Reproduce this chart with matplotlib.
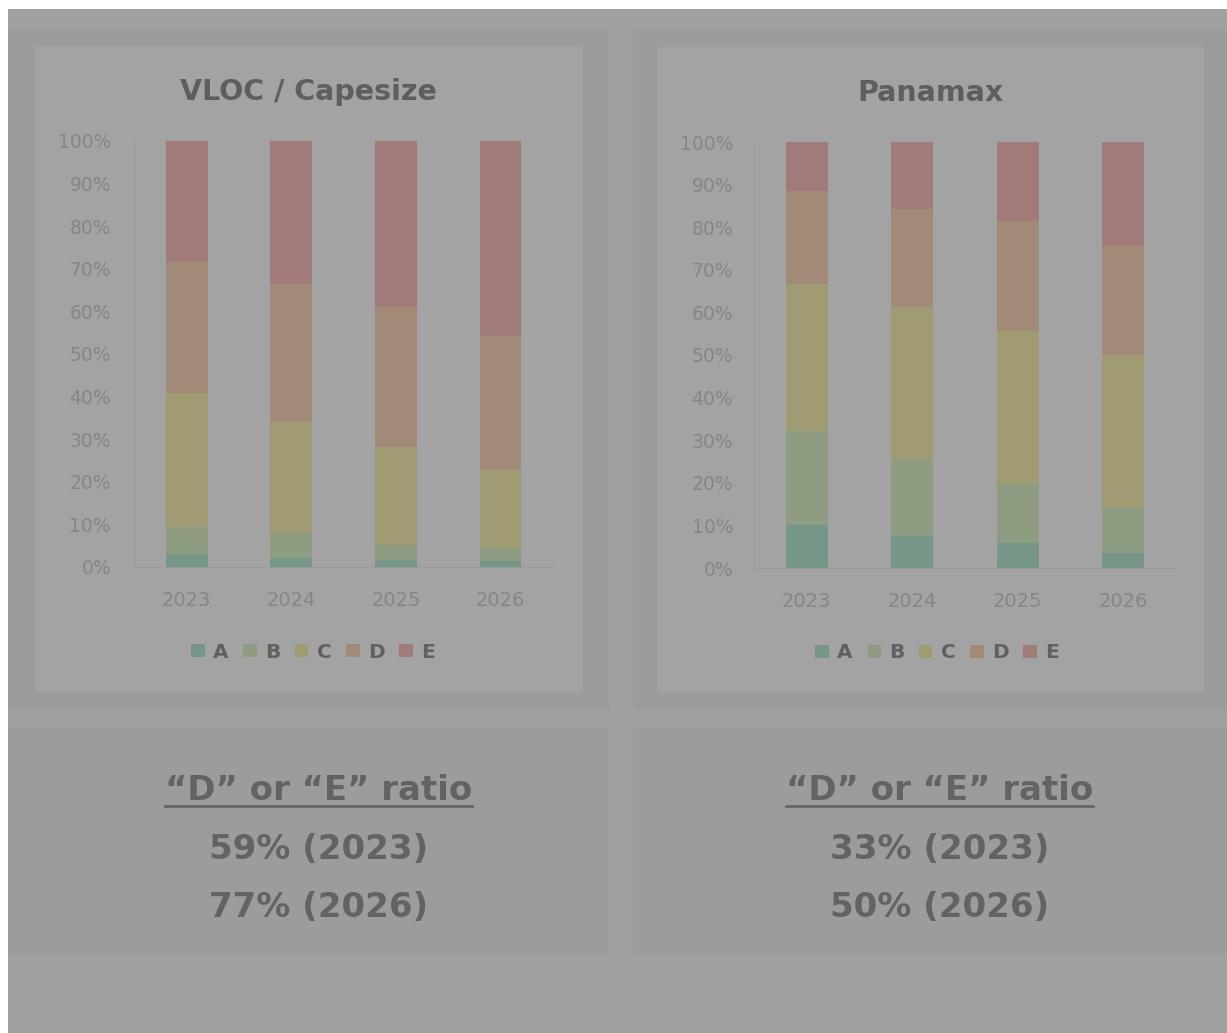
import numpy as np
import matplotlib
matplotlib.use('Agg')
from matplotlib import pyplot as plt
from matplotlib.patches import Rectangle
from matplotlib.lines import Line2D

W, H = 1227, 1033

years = ['2023', '2024', '2025', '2026']
grades = ['A', 'B', 'C', 'D', 'E']

# share of fleet by grade, percent
cape_A = [3.0, 2.2, 1.6, 1.4]
cape_B = [6.5, 5.8, 3.6, 3.0]
cape_C = [31.3, 26.0, 23.0, 18.4]
cape_D = [30.9, 32.4, 32.8, 31.5]
cape_E = [28.3, 33.6, 39.0, 45.7]

pmax_A = [10.2, 7.6, 5.9, 3.5]
pmax_B = [21.9, 17.9, 13.9, 10.5]
pmax_C = [34.5, 35.8, 35.8, 36.0]
pmax_D = [21.8, 23.0, 25.8, 25.6]
pmax_E = [11.6, 15.7, 18.6, 24.4]

colors = ['#769688', '#8e9c82', '#a19b74', '#a18a78', '#a17a7a']

plt.rcParams['font.family'] = ['DejaVu Sans']

fig = plt.figure(figsize=(W / 100, H / 100), dpi=100, facecolor='#a0a0a0')


def box(x0, y0, x1, y1, color):
    fig.add_artist(Rectangle((x0 / W, 1 - y1 / H), (x1 - x0) / W, (y1 - y0) / H,
                             transform=fig.transFigure, facecolor=color,
                             edgecolor='none', zorder=0))


# page edges and panels
box(0, 0, W, 9, 'white')
box(0, 0, 8, H, 'white')
box(8, 30, 609, 710, '#9c9c9c')
box(633, 30, W, 710, '#9c9c9c')
box(35, 46, 582, 692, '#a3a3a3')
box(658, 47, 1204, 692, '#a3a3a3')
box(8, 728, 609, 954, '#9c9c9c')
box(633, 728, W, 954, '#9c9c9c')


def stacked(rect, title, title_xy, series, legend_xy, tick_pad):
    x0, y0, x1, y1 = rect
    ax = fig.add_axes([x0 / W, 1 - y1 / H, (x1 - x0) / W, (y1 - y0) / H])
    ax.set_facecolor('none')
    x = np.arange(len(years))
    bottom = np.zeros(len(years))
    for name, vals, c in zip(grades, series, colors):
        ax.bar(x, vals, width=0.4, bottom=bottom, color=c, label=name)
        bottom += np.array(vals)
    ax.set_xlim(-0.5, 3.5)
    ax.set_ylim(0, 100)
    ax.set_yticks(np.arange(0, 101, 10))
    ax.set_yticklabels([f'{v}%' for v in range(0, 101, 10)])
    ax.set_xticks(x)
    ax.set_xticklabels(years)
    ax.tick_params(axis='y', length=0, pad=tick_pad, labelsize=13.5, labelcolor='#868686')
    ax.tick_params(axis='x', length=0, pad=17, labelsize=14, labelcolor='#868686')
    for s in ['top', 'right']:
        ax.spines[s].set_visible(False)
    for s in ['left', 'bottom']:
        ax.spines[s].set_color('#9a9a9a')
        ax.spines[s].set_linewidth(0.8)
    fig.text(title_xy[0] / W, 1 - title_xy[1] / H, title, ha='center', va='baseline',
             fontsize=20.5, fontweight='bold', color='#5e5e5e')
    ax.legend(loc='center', bbox_to_anchor=(legend_xy[0] / W, 1 - legend_xy[1] / H),
              bbox_transform=fig.transFigure, ncol=5, frameon=False,
              handlelength=0.66, handleheight=0.66, handletextpad=0.4,
              columnspacing=0.75, labelcolor='#606060',
              prop={'size': 14.5, 'weight': 'bold'})
    return ax


stacked((134.5, 141, 552.8, 567), 'VLOC / Capesize', (308, 100),
        [cape_A, cape_B, cape_C, cape_D, cape_E], (313, 652), 17)
stacked((754, 142, 1176, 568), 'Panamax', (930, 101),
        [pmax_A, pmax_B, pmax_C, pmax_D, pmax_E], (937, 653), 15)


def ratio_block(cx, d, e):
    first = round(d[0] + e[0])
    last = round(d[-1] + e[-1])
    style = dict(ha='center', va='baseline', fontsize=24.5, fontweight='bold',
                 color='#636363')
    fig.text(cx / W, 1 - 800 / H, '\u201cD\u201d or \u201cE\u201d ratio', **style)
    fig.text(cx / W, 1 - 859 / H, f'{first}% ({years[0]})', **style)
    fig.text(cx / W, 1 - 917 / H, f'{last}% ({years[-1]})', **style)


ratio_block(318.5, cape_D, cape_E)
ratio_block(939.5, pmax_D, pmax_E)

# underlines under the ratio headings
for xa, xb in [(165, 472), (786, 1093)]:
    fig.add_artist(Line2D([xa / W, xb / W], [1 - 806 / H, 1 - 806 / H],
                          transform=fig.transFigure, color='#666666', lw=2))

fig.savefig('out.png', dpi=100, facecolor=fig.get_facecolor())
